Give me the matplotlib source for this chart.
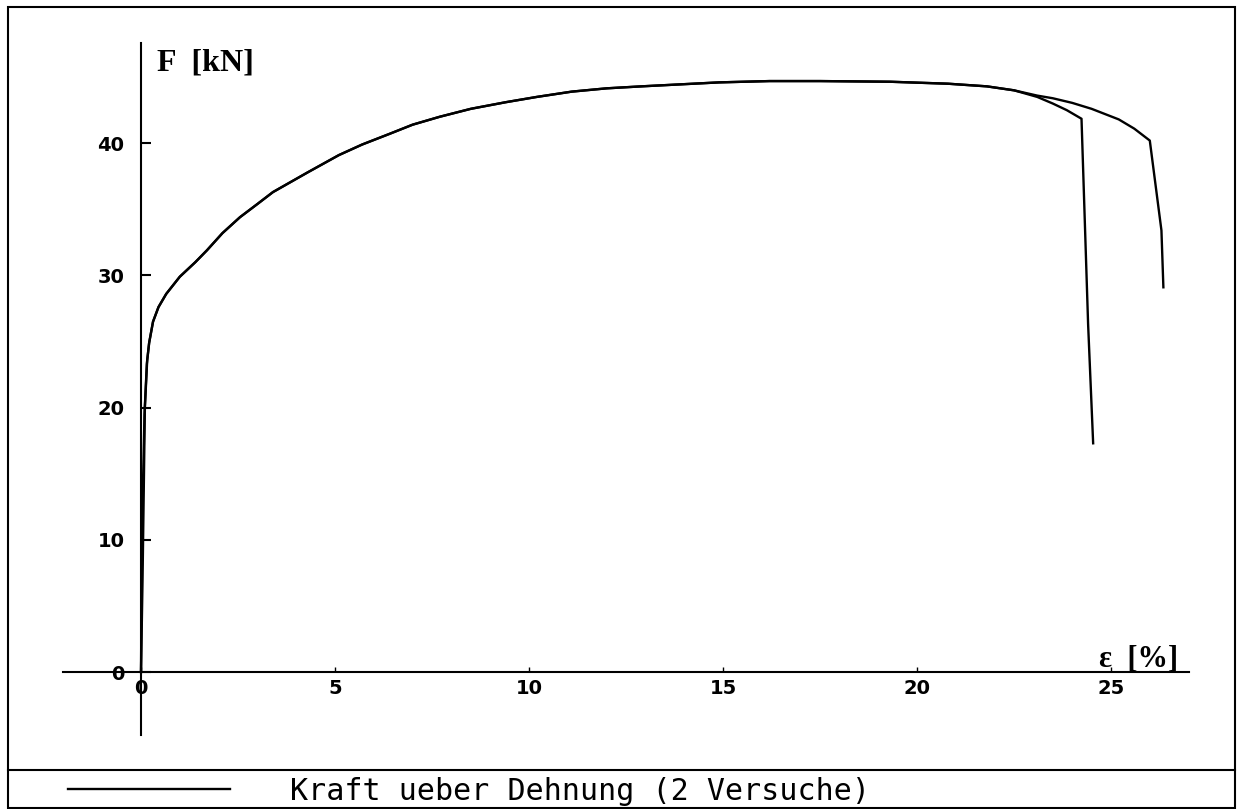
import matplotlib
matplotlib.use("Agg")
import matplotlib.pyplot as plt
from matplotlib.patches import Rectangle
from matplotlib.lines import Line2D

# Zugversuch: Kraft ueber Dehnung, zwei Proben
eps_1 = [0.0, 0.04, 0.07, 0.10, 0.16, 0.21, 0.31, 0.45, 0.65, 1.0, 1.4, 1.7, 2.1,
         2.55, 3.0, 3.4, 4.3, 5.1, 5.7, 6.4, 7.0, 7.7, 8.5, 9.4, 10.2, 11.1, 12.0,
         12.9, 14.9, 16.2, 17.5, 19.3, 20.8, 21.8, 22.5, 23.1, 23.5, 23.86,
         24.24, 24.41, 24.54]
force_1 = [0.0, 7.0, 13.5, 20.0, 23.6, 24.9, 26.5, 27.6, 28.6, 29.9, 31.0, 31.9, 33.2,
           34.4, 35.4, 36.3, 37.8, 39.1, 39.9, 40.7, 41.4, 42.0, 42.6, 43.1, 43.5, 43.9, 44.15,
           44.3, 44.6, 44.7, 44.7, 44.65, 44.5, 44.3, 44.0, 43.5, 43.0, 42.5,
           41.85, 26.3, 17.3]

eps_2 = [0.0, 0.02, 0.05, 0.09, 0.15, 0.21, 0.31, 0.45, 0.65, 1.0, 1.4, 1.7, 2.1,
         2.55, 3.0, 3.4, 4.3, 5.1, 5.7, 6.4, 7.0, 7.7, 8.5, 9.4, 10.2, 11.1, 12.0,
         12.9, 14.9, 16.2, 17.5, 19.3, 20.8, 21.8, 22.5, 23.1, 23.5, 24.0, 24.5,
         25.2, 25.6, 26.0, 26.3, 26.35]
force_2 = [0.0, 7.5, 14.0, 19.5, 23.3, 24.9, 26.5, 27.6, 28.6, 29.9, 31.0, 31.9, 33.2,
           34.4, 35.4, 36.3, 37.8, 39.1, 39.9, 40.7, 41.4, 42.0, 42.6, 43.1, 43.5, 43.9, 44.15,
           44.3, 44.6, 44.7, 44.7, 44.65, 44.5, 44.3, 44.0, 43.6, 43.4, 43.05, 42.6,
           41.8, 41.1, 40.2, 33.4, 29.1]

x_ticks = [0, 5, 10, 15, 20, 25]
y_ticks = [0, 10, 20, 30, 40]
legend_text = "Kraft ueber Dehnung (2 Versuche)"

W, H = 1240, 809
fig = plt.figure(figsize=(W / 100, H / 100), dpi=100)
ax = fig.add_axes([0, 0, 1, 1])
ax.patch.set_alpha(0)

# pixel scale of the plot area
px_x = 38.8
px_y = 13.22
x0_px, y0_px = 141, 672
ax.set_xlim(-x0_px / px_x, (W - x0_px) / px_x)
ax.set_ylim(-(H - y0_px) / px_y, y0_px / px_y)

line1, = ax.plot(eps_1, force_1, color="black", lw=1.7, label=legend_text,
                 solid_joinstyle="round")
ax.plot(eps_2, force_2, color="black", lw=1.7, label="_nolegend_",
        solid_joinstyle="round")

# axes crossing at the origin
for side in ("top", "right"):
    ax.spines[side].set_visible(False)
ax.spines["left"].set_position(("data", 0))
ax.spines["bottom"].set_position(("data", 0))
ax.spines["left"].set_bounds(-4.8, 47.6)
ax.spines["bottom"].set_bounds(-2.0, 27.0)
ax.spines["left"].set_linewidth(1.5)
ax.spines["bottom"].set_linewidth(1.5)

ax.set_xticks(x_ticks)
ax.set_yticks(y_ticks)
ax.tick_params(axis="y", direction="in", length=7.5, width=1.5, pad=12,
               labelsize=14)
ax.tick_params(axis="x", direction="in", length=3.5, width=1.0, pad=5,
               labelsize=14)
for lab in ax.get_xticklabels() + ax.get_yticklabels():
    lab.set_fontweight("bold")
    lab.set_family("DejaVu Sans")

ax.text(0.41, 46.1, "F  [kN]", family="Liberation Serif", fontweight="bold",
        fontsize=23, ha="left", va="center")
ax.text(24.7, 0.45, "ε  [%]", family="Liberation Serif", fontweight="bold",
        fontsize=22, ha="left", va="baseline")

# outer frame and legend strip
fig.add_artist(Rectangle((8 / W, 1 / H), (1235 - 8) / W, (H - 7 - 1) / H,
                         transform=fig.transFigure, fill=False,
                         edgecolor="black", lw=1.5))
fig.add_artist(Line2D([8 / W, 1235 / W], [1 - 770 / H, 1 - 770 / H],
                      transform=fig.transFigure, color="black", lw=1.5))

ax.legend(handles=[line1], loc="center left",
          bbox_to_anchor=(68 / W, 1 - 791 / H), bbox_transform=fig.transFigure,
          frameon=False, borderpad=0, borderaxespad=0,
          handlelength=5.4, handletextpad=2.0,
          prop={"family": "DejaVu Sans Mono", "size": 21.6})

fig.savefig("out.png", dpi=100)
